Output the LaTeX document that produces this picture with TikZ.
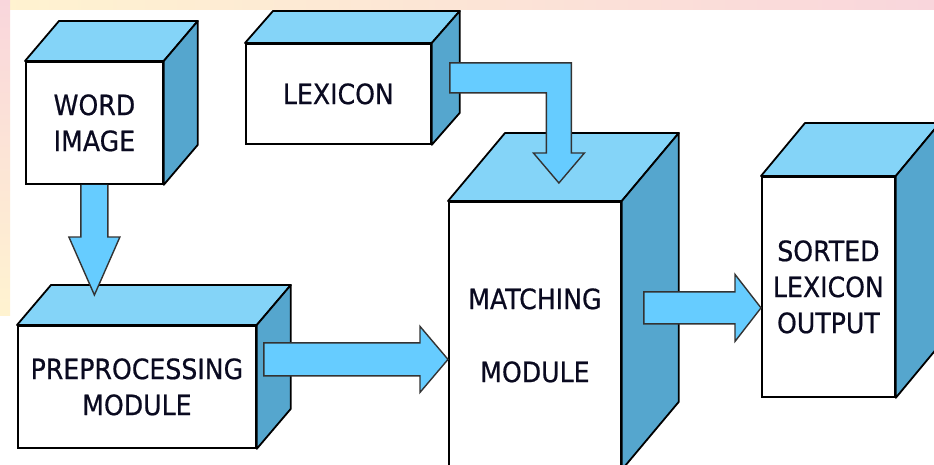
\documentclass[tikz,border=0pt]{standalone}
\usepackage{fontspec}
\setmainfont{DejaVu Sans}[FakeStretch=0.9,FakeBold=0.6]
\usetikzlibrary{calc}
\definecolor{topc}{HTML}{84D4F8}
\definecolor{sidec}{HTML}{55A6CE}
\definecolor{arrc}{HTML}{66CCFF}
\definecolor{txtc}{HTML}{0A0A20}
\definecolor{bgA}{HTML}{FFF3D0}
\definecolor{bgB}{HTML}{DCDDF7}
\definecolor{bgC}{HTML}{F9D6DC}
\tikzset{
  front/.style={draw=black, line width=1.8pt, fill=white, inner sep=0pt, align=center,
    text=txtc, font=\fontsize{28}{36}\selectfont, anchor=north west},
  topface/.style={draw=black, line width=1.8pt, fill=topc, line join=round},
  sideface/.style={draw=black, line width=1.8pt, fill=sidec, line join=round},
  blockarrow/.style={draw=black!80, line width=1.4pt, fill=arrc, line join=miter},
}
\newcommand\cubefaces[3]{%
  \draw[topface] (#1.north west) -- ++(#2,-#3) -- ($(#1.north east)+(#2,-#3)$) -- (#1.north east) -- cycle;
  \draw[sideface] (#1.north east) -- ++(#2,-#3) -- ($(#1.south east)+(#2,-#3)$) -- (#1.south east) -- cycle;}
\begin{document}
\begin{tikzpicture}[x=1pt,y=-1pt]
\useasboundingbox (0,0) rectangle (934,465);
\clip (0,0) rectangle (934,465);
\fill[white] (0,0) rectangle (934,465);
\shade[left color=bgA, middle color=bgB, right color=bgC] (0,0) rectangle (934,10);
\shade[top color=bgC, bottom color=bgA] (0,0) rectangle (10,315);

% boxes
\node[front, minimum width=137pt, minimum height=122pt] (word) at (25,61) {WORD\\IMAGE};
\cubefaces{word}{34}{40}
\node[front, minimum width=185pt, minimum height=100pt] (lex) at (245,43) {LEXICON};
\cubefaces{lex}{28}{32}
\node[front, minimum width=238pt, minimum height=122pt] (pre) at (17,325) {PREPROCESSING\\MODULE};
\cubefaces{pre}{34}{40}
\node[front, minimum width=172pt, minimum height=267pt] (match) at (448,201) {MATCHING\\[37pt]MODULE};
\cubefaces{match}{57}{68}
\node[front, minimum width=133pt, minimum height=220pt] (sorted) at (761,176) {SORTED\\LEXICON\\OUTPUT};
\cubefaces{sorted}{44}{53}

% arrow word -> pre
\coordinate (a1s) at (word.south);
\coordinate (a1t) at ($(word.south |- pre.north)+(0,-30)$);
\draw[blockarrow] ($(a1s)+(-13.5,0)$) -- ($(a1t)+(-13.5,-58)$) -- ($(a1t)+(-25.5,-58)$) -- (a1t)
  -- ($(a1t)+(25.5,-58)$) -- ($(a1t)+(13.5,-58)$) -- ($(a1s)+(13.5,0)$);

% arrow pre -> match
\coordinate (a2s) at ($(pre.east)+(7,-27.5)$);
\coordinate (a2t) at (a2s -| match.west);
\draw[blockarrow] ($(a2s)+(0,-16.5)$) -- ($(a2t)+(-28,-16.5)$) -- ($(a2t)+(-28,-33)$) -- (a2t)
  -- ($(a2t)+(-28,33)$) -- ($(a2t)+(-28,16.5)$) -- ($(a2s)+(0,16.5)$) -- cycle;

% elbow arrow lex -> match
\coordinate (a3s) at ($(lex.east)+(18,-16)$);
\coordinate (a3t) at ($(match.north)+(24,-18)$);
\draw[blockarrow] ($(a3s)+(0,-15)$) -- ($(a3t |- a3s)+(12.5,-15)$) -- ($(a3t)+(12.5,-30)$)
  -- ($(a3t)+(25.5,-30)$) -- (a3t) -- ($(a3t)+(-25.5,-30)$) -- ($(a3t)+(-12.5,-30)$)
  -- ($(a3t |- a3s)+(-12.5,15)$) -- ($(a3s)+(0,15)$) -- cycle;

% arrow match -> sorted
\coordinate (a4s) at ($(match.east)+(22,-27.5)$);
\coordinate (a4t) at (a4s -| sorted.west);
\draw[blockarrow] ($(a4s)+(0,-16)$) -- ($(a4t)+(-26,-16)$) -- ($(a4t)+(-26,-33.5)$) -- (a4t)
  -- ($(a4t)+(-26,33.5)$) -- ($(a4t)+(-26,16)$) -- ($(a4s)+(0,16)$) -- cycle;
\end{tikzpicture}
\end{document}
